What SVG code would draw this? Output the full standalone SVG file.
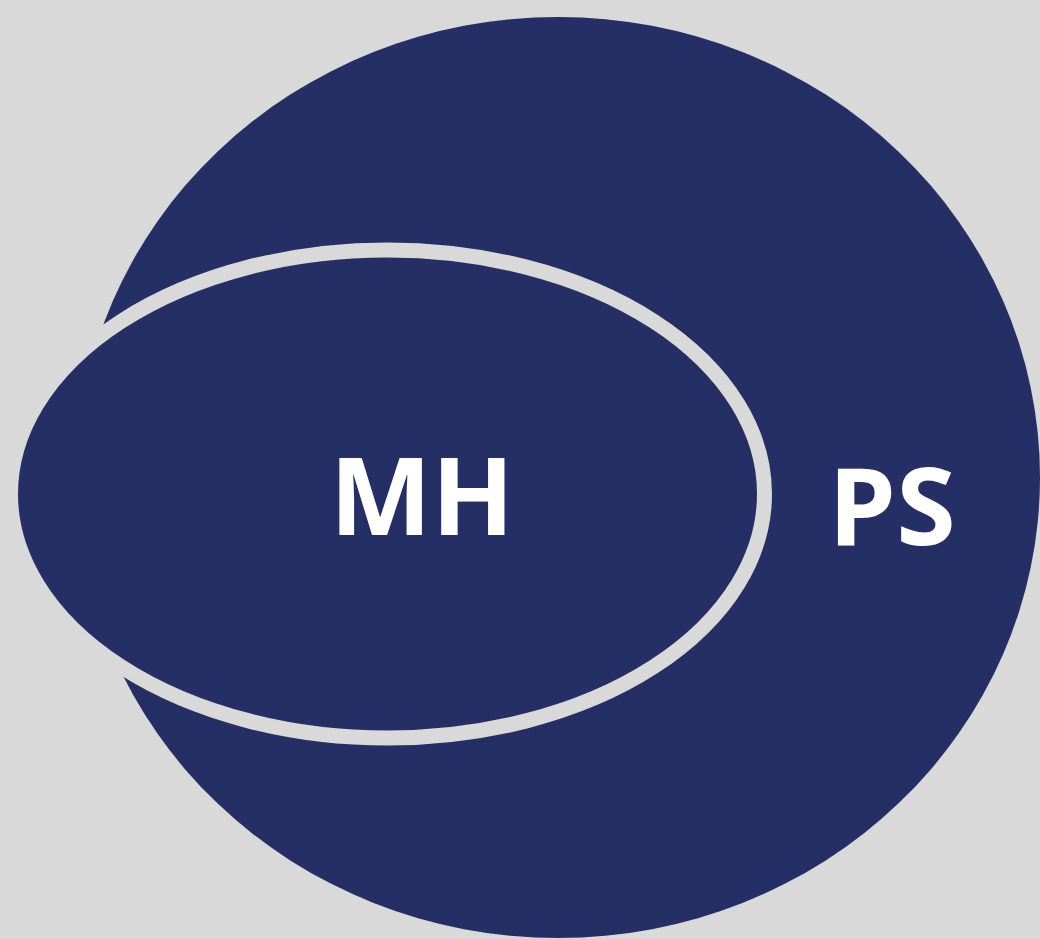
<svg xmlns="http://www.w3.org/2000/svg" width="1040" height="939" viewBox="0 0 1040 939">
<style>
.lbl{font-family:"Open Sans","Liberation Sans",sans-serif;font-weight:700;font-size:108px;fill:#ffffff;text-anchor:middle}
</style>
<rect x="0" y="0" width="1040" height="939" fill="#d9d9d9"/>
<g id="PS">
<ellipse cx="558" cy="477.5" rx="482" ry="460.5" fill="#262e66"/>
<text class="lbl" x="892" y="545">PS</text>
</g>
<g id="MH">
<ellipse cx="387.5" cy="494" rx="377" ry="244" fill="#262e66" stroke="#d9d9d9" stroke-width="15"/>
<text class="lbl" x="422" y="535">MH</text>
</g>
<g id="connectors"/>
</svg>
